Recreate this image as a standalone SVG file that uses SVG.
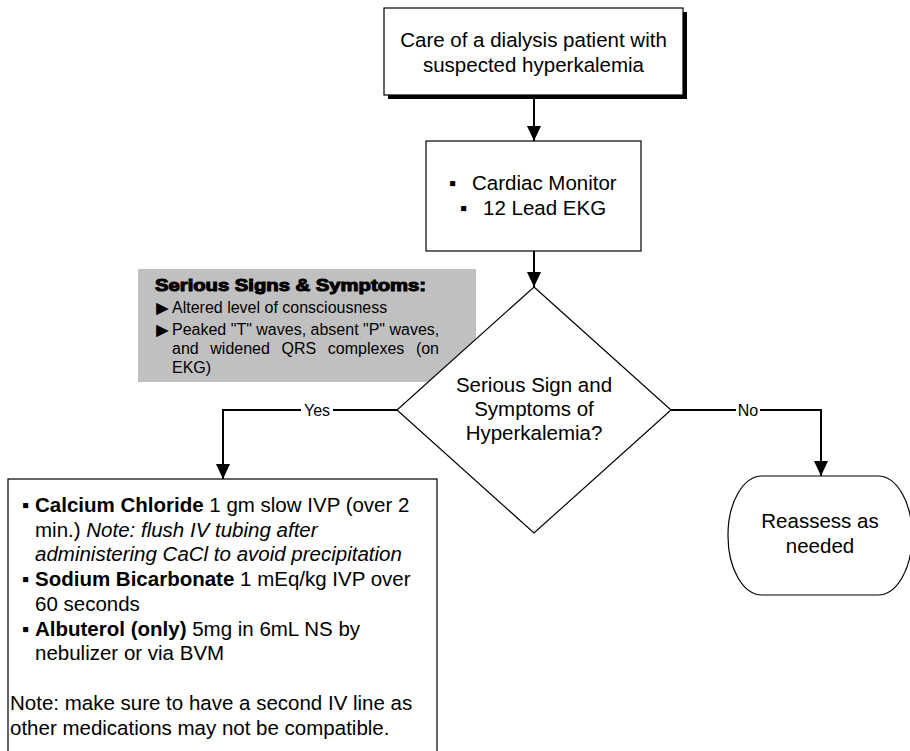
<svg xmlns="http://www.w3.org/2000/svg" width="910" height="751" viewBox="0 0 910 751">
  <style>
    .t { font-family: "Liberation Sans", Arial, sans-serif; font-size: 20.5px; fill: #000; }
    .s { font-family: "Liberation Sans", Arial, sans-serif; font-size: 16px; fill: #000; }
    .c { text-anchor: middle; }
    .b { font-weight: bold; }
    .i { font-style: italic; }
    .tri { font-family: "Liberation Sans", Arial, sans-serif; font-size: 21px; fill: #000; }
    .box { fill: #fff; stroke: #000; stroke-width: 1.2; }
    .wire { fill: none; stroke: #000; stroke-width: 2; }
  </style>
  <defs>
    <marker id="arrow" markerUnits="userSpaceOnUse" markerWidth="14" markerHeight="15" refX="15" refY="7" orient="auto">
      <path d="M0,0 L15,7 L0,14 z" fill="#000"/>
    </marker>
  </defs>
  <rect width="910" height="751" fill="#fff"/>

  <!-- info panel -->
  <g id="signs-panel">
    <rect x="138" y="269" width="338" height="113" fill="#c0c0c0"/>
    <text class="s b" x="155" y="291" font-size="17" stroke="#000" stroke-width="1" textLength="271" lengthAdjust="spacingAndGlyphs">Serious Signs &amp; Symptoms:</text>
    <text class="tri" x="152" y="315">►</text>
    <text class="s" x="172" y="313">Altered level of consciousness</text>
    <text class="tri" x="152" y="337">►</text>
    <text class="s" x="172" y="335">Peaked "T" waves, absent "P" waves,</text>
    <text class="s" y="354"><tspan x="172">and</tspan><tspan x="210.3">widened</tspan><tspan x="281.5">QRS</tspan><tspan x="327.8">complexes</tspan><tspan x="415.9">(on</tspan></text>
    <text class="s" x="172" y="373">EKG)</text>
  </g>

  <!-- connectors -->
  <g id="connectors">
    <line class="wire" x1="534" y1="98" x2="534" y2="141" marker-end="url(#arrow)"/>
    <line class="wire" x1="534" y1="251" x2="534" y2="287" marker-end="url(#arrow)"/>
    <polyline class="wire" points="397,410 223,410 223,479" marker-end="url(#arrow)"/>
    <polyline class="wire" points="671,410 821,410 821,476" marker-end="url(#arrow)"/>
    <rect x="301" y="400" width="32" height="20" fill="#fff"/>
    <text class="s c" x="317" y="416">Yes</text>
    <rect x="736" y="400" width="24" height="20" fill="#fff"/>
    <text class="s c" x="748" y="416">No</text>
  </g>

  <g id="start">
    <rect x="388" y="12" width="299" height="87" fill="#000"/>
    <rect class="box" x="384" y="8" width="299" height="87"/>
    <text class="t c" x="533.5" y="47">Care of a dialysis patient with</text>
    <text class="t c" x="533.5" y="72">suspected hyperkalemia</text>
  </g>

  <g id="monitor">
    <rect class="box" x="426" y="141" width="215" height="110"/>
    <text class="t" x="449" y="190">▪</text>
    <text class="t" x="472" y="190">Cardiac Monitor</text>
    <text class="t" x="460" y="215">▪</text>
    <text class="t" x="483" y="215">12 Lead EKG</text>
  </g>

  <g id="decision">
    <polygon class="box" points="534,287 671,410 534,533 397,410"/>
    <text class="t c" x="534" y="392">Serious Sign and</text>
    <text class="t c" x="534" y="416">Symptoms of</text>
    <text class="t c" x="534" y="440">Hyperkalemia?</text>
  </g>

  <g id="treatment">
    <rect class="box" x="8" y="479" width="429" height="280"/>
    <text class="t" x="22" y="512">▪</text>
    <text class="t" x="35" y="512"><tspan class="b">Calcium Chloride</tspan> 1 gm slow IVP (over 2</text>
    <text class="t" x="35" y="537">min.) <tspan class="i">Note: flush IV tubing after</tspan></text>
    <text class="t i" x="35" y="561">administering CaCl to avoid precipitation</text>
    <text class="t" x="22" y="586">▪</text>
    <text class="t" x="35" y="586"><tspan class="b">Sodium Bicarbonate</tspan> 1 mEq/kg IVP over</text>
    <text class="t" x="35" y="611">60 seconds</text>
    <text class="t" x="22" y="636">▪</text>
    <text class="t" x="35" y="636"><tspan class="b">Albuterol (only)</tspan> 5mg in 6mL NS by</text>
    <text class="t" x="35" y="660">nebulizer or via BVM</text>
    <text class="t" x="10" y="710">Note: make sure to have a second IV line as</text>
    <text class="t" x="10" y="735">other medications may not be compatible.</text>
  </g>

  <g id="reassess">
    <rect class="box" x="728" y="476" width="184" height="119" rx="34" ry="59"/>
    <text class="t c" x="820" y="528">Reassess as</text>
    <text class="t c" x="820" y="553">needed</text>
  </g>
</svg>
